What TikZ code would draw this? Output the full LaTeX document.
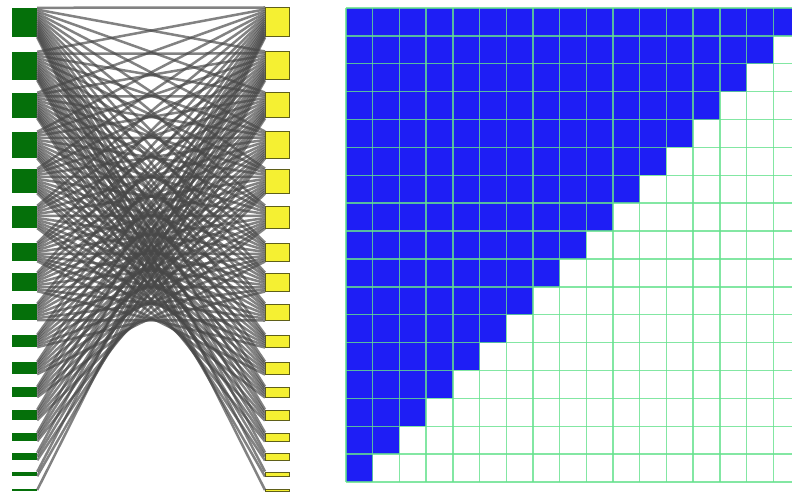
\documentclass[tikz,border=0pt]{standalone}
\usepackage{tikz}
\usetikzlibrary{calc}
\definecolor{leafgreen}{RGB}{5,112,10}
\definecolor{lemon}{RGB}{245,240,50}
\definecolor{olivedrab}{RGB}{95,95,25}
\definecolor{cellblue}{RGB}{30,30,245}
\definecolor{gridgreen}{RGB}{100,225,140}

\begin{document}
\begin{tikzpicture}[x=1pt,y=-1pt]
\tikzset{
  lbox/.style={fill=leafgreen,inner sep=0pt,minimum width=25pt},
  rbox/.style={fill=lemon,draw=olivedrab,line width=1pt,inner sep=0pt,minimum width=24pt},
  wire/.style={black!72,line width=2.5pt,opacity=0.68},
  cell/.style={fill=cellblue},
  gline/.style={gridgreen,line width=1.4pt,opacity=0.8}
}
\useasboundingbox (0,0) rectangle (792,492);

% the two columns, top/bottom of each box
\foreach \t/\b [count=\i from 0] in {8/37,52/80,93/118,132/158,169/193,206/228,243/261,273/291,304/320,335/347,362/374,387/397,410/420,433/441,453/460,472/476,489/491}{
  \pgfmathsetmacro{\h}{\b-\t}
  \node[lbox,minimum height=\h pt] (g\i) at (24.5,{(\t+\b)/2}) {};
  \node[rbox,minimum height=\h pt] (y\i) at (277.5,{(\t+\b)/2}) {};
}

% left i joins right j when i+j<=16
\foreach \i in {0,...,16}{
  \pgfmathtruncatemacro{\last}{16-\i}
  \foreach \j in {0,...,\last}{
    \ifnum\last=0 \def\fl{0.5}\else\pgfmathsetmacro{\fl}{\j/\last}\fi
    \pgfmathtruncatemacro{\rl}{16-\j}
    \ifnum\rl=0 \def\fr{0.5}\else\pgfmathsetmacro{\fr}{\i/\rl}\fi
    \draw[wire] ($(g\i.north east)!\fl!(g\i.south east)$) -- ($(y\j.north west)!\fr!(y\j.south west)$);
  }
}

% matrix
\foreach \r in {0,...,16}{
  \pgfmathtruncatemacro{\n}{16-\r}
  \foreach \c in {0,...,\n}{
    \fill[cell] ({346+26.7*\c},{8+27.88*\r}) rectangle ({min(346+26.7*(\c+1),792)},{8+27.88*(\r+1)});
  }
}
\foreach \c in {0,...,16}
  \draw[gline] ({346+26.7*\c},8) -- ({346+26.7*\c},482);
\foreach \r in {0,...,17}
  \draw[gline] (346,{8+27.88*\r}) -- (792,{8+27.88*\r});
\end{tikzpicture}
\end{document}
